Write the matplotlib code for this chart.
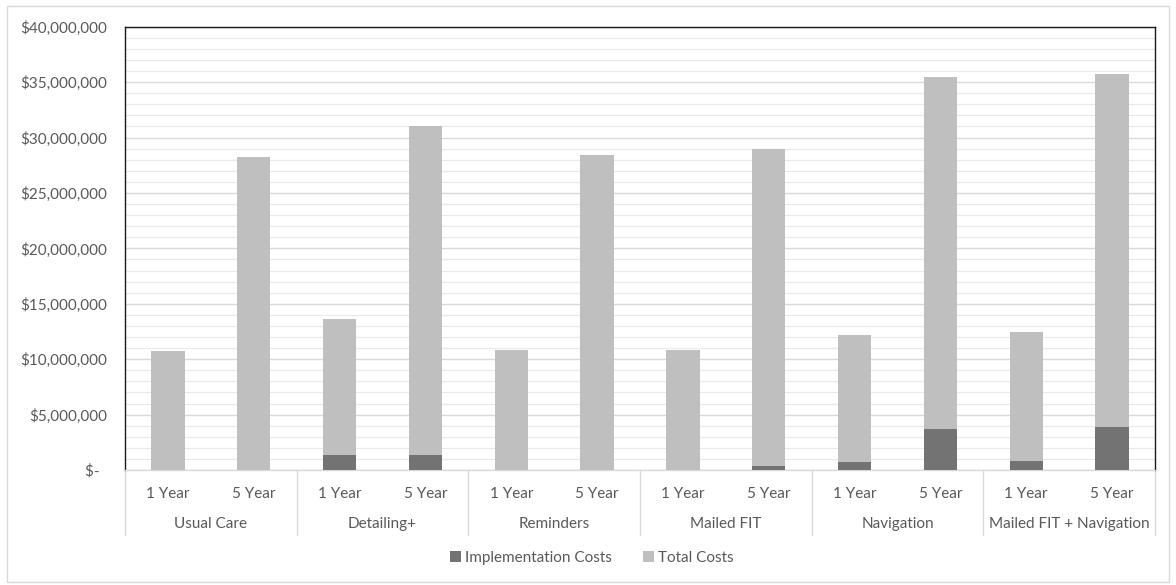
import matplotlib
matplotlib.use("Agg")
import matplotlib.pyplot as plt
import matplotlib.transforms as mtransforms
from matplotlib.patches import Rectangle
from matplotlib.ticker import MultipleLocator, FuncFormatter

# Cost data (US dollars)
strategies = ["Usual Care", "Detailing+", "Reminders", "Mailed FIT",
              "Navigation", "Mailed FIT + Navigation"]
horizons = ["1 Year", "5 Year"]
total_costs = [10.7e6, 28.2e6, 13.6e6, 31.0e6, 10.85e6, 28.45e6,
               10.85e6, 29.0e6, 12.15e6, 35.45e6, 12.45e6, 35.7e6]
implementation_costs = [0.0, 0.0, 1.35e6, 1.35e6, 0.005e6, 0.01e6,
                        0.02e6, 0.4e6, 0.7e6, 3.7e6, 0.85e6, 3.9e6]

TEXT = "#595959"
FS = 11
plt.rcParams["font.family"] = ["Lato", "DejaVu Sans"]

fig = plt.figure(figsize=(11.76, 5.85), dpi=100)
fig.patches.append(Rectangle((7 / 1176, 3 / 585), 1162 / 1176, 576 / 585,
                             transform=fig.transFigure, fill=False,
                             edgecolor="#d9d9d9", linewidth=1.0))
ax = fig.add_axes([125 / 1176, 1 - 470 / 585, 1030 / 1176, 443.3 / 585])

n = len(total_costs)
xs = list(range(n))
width = 0.39
ax.bar(xs, total_costs, width=width, color="#bfbfbf", zorder=3,
       label="Total Costs")
ax.bar(xs, implementation_costs, width=width, color="#737373", zorder=4,
       label="Implementation Costs")

ax.set_xlim(-0.5, n - 0.5)
ax.set_ylim(0, 40e6)
ax.yaxis.set_major_locator(MultipleLocator(5e6))
ax.yaxis.set_minor_locator(MultipleLocator(1e6))


def money(v, pos):
    if abs(v) < 1:
        return "$-  "
    return "${:,.0f}".format(v)


ax.yaxis.set_major_formatter(FuncFormatter(money))
ax.grid(which="major", axis="y", color="#d9d9d9", linewidth=1.0, zorder=0)
ax.grid(which="minor", axis="y", color="#eaeaea", linewidth=0.9, zorder=0)
ax.tick_params(axis="y", which="both", length=0, pad=13, labelsize=FS,
               labelcolor=TEXT)

ax.set_xticks(xs)
ax.set_xticklabels([horizons[i % 2] for i in xs])
ax.tick_params(axis="x", length=0, pad=12, labelsize=FS, labelcolor=TEXT)

for side in ("left", "top", "right"):
    ax.spines[side].set_color("#1a1a1a")
    ax.spines[side].set_linewidth(1.0)
ax.spines["bottom"].set_color("#d9d9d9")
ax.spines["bottom"].set_linewidth(1.0)

# Group labels and separators under the axis
trans = mtransforms.blended_transform_factory(ax.transData, ax.transAxes)
sep_depth = -65 / 443.3
for g, name in enumerate(strategies):
    ax.text(2 * g + 0.5, -54 / 443.3, name, transform=trans, ha="center",
            va="center", fontsize=FS, color=TEXT)
for b in range(len(strategies) + 1):
    xb = 2 * b - 0.5
    ax.plot([xb, xb], [0, sep_depth], transform=trans, color="#d9d9d9",
            linewidth=1.0, clip_on=False, zorder=1)

handles, labels = ax.get_legend_handles_labels()
leg = fig.legend(handles[::-1], labels[::-1], loc="center",
                 bbox_to_anchor=(592 / 1176, 1 - 558 / 585), ncol=2,
                 frameon=False, fontsize=FS, handlelength=0.7,
                 handleheight=0.7, handletextpad=0.3, columnspacing=2.0)
for t in leg.get_texts():
    t.set_color(TEXT)

fig.savefig("out.png", dpi=100)
